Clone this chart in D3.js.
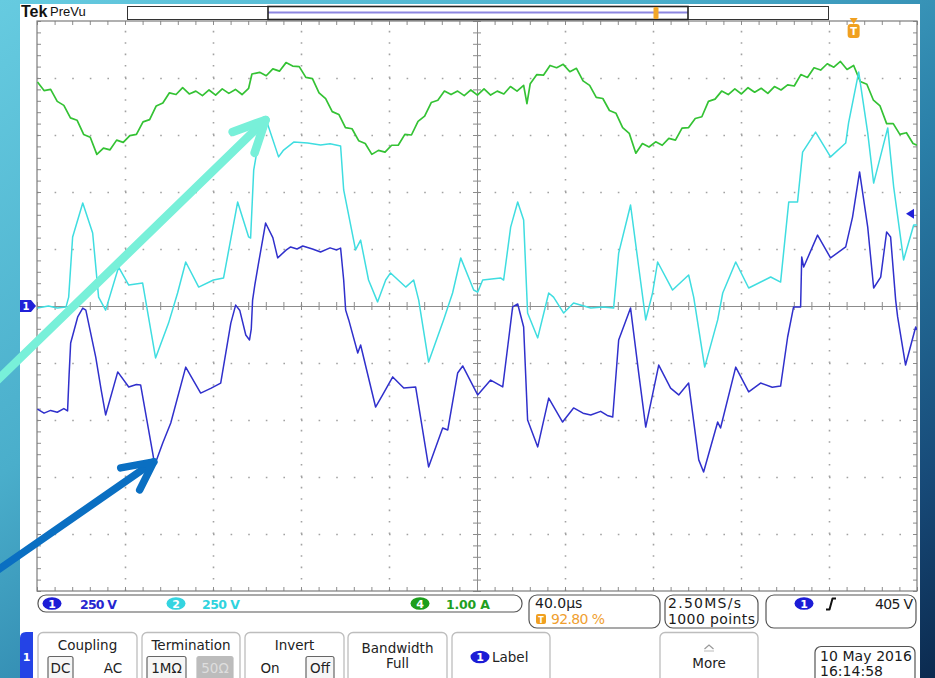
<!DOCTYPE html>
<html>
<head>
<meta charset="utf-8">
<script src="https://cdn.jsdelivr.net/npm/d3@7"></script>
<style>
  html, body { margin: 0; padding: 0; background: #0b2a4f; }
  svg { display: block; }
  text { font-family: "DejaVu Sans", "Noto Sans", sans-serif; }
</style>
</head>
<body>
<svg id="scope" width="935" height="678"></svg>
<script>
// ---- acquisition settings ----
const timePerDiv = 40;          // µs / div
const triggerPosition = 0.928;  // fraction of record before trigger
const ch1VoltsPerDiv = 250;
const ch2VoltsPerDiv = 250;
const ch4AmpsPerDiv = 1.0;
const triggerLevel = 405;       // V on ch1

// ---- channel 1 (V) : [time µs, volts] ----
const ch1Trace = [
  [-371.0,-452],[-368,-470],[-365,-458],[-362,-466],[-359,-450],[-357.3,-460],[-356.6,-300],
  [-355.9,-162],[-352.7,-48],[-350.4,-9],[-349,-18],[-344.5,-224],[-342,-370],[-340,-478],
  [-334.5,-289],[-329.5,-355],[-326,-344],[-324.1,-346],[-318.6,-645],[-317.7,-697],[-314,-600],
  [-310.4,-513],[-303.6,-268],[-296.8,-382],[-292,-360],[-287.7,-338],[-283.1,-75],[-280.9,4],
  [-279,-20],[-276.3,-127],[-274.6,-149],[-273.8,-100],[-273.2,26],[-272.2,92],[-270.4,193],
  [-267.3,364],[-264,300],[-261.8,211],[-258,245],[-255.9,259],[-253,250],[-250.4,263],[-246,250],
  [-242.3,237],[-238,255],[-235,246],[-233.2,254],[-231.8,114],[-230.9,-18],[-229.5,-61],
  [-225.4,-206],[-224.1,-171],[-217.3,-443],[-214.1,-390],[-209.5,-311],[-204.5,-360],
  [-199.1,-355],[-193.2,-706],[-186.8,-535],[-184.5,-544],[-180.0,-294],[-177.7,-263],
  [-170.9,-390],[-165.0,-325],[-159.5,-355],[-155.0,-4],[-152.7,9],[-150.0,-92],[-148.2,-500],
  [-143.6,-618],[-138.6,-404],[-132.3,-509],[-127.3,-447],[-123,-470],[-119.5,-478],[-115,-462],
  [-112,-480],[-109.5,-487],[-106.8,-149],[-101.4,-9],[-97.7,-294],[-94.5,-531],[-88.6,-259],
  [-83.2,-360],[-79.5,-390],[-75.0,-338],[-70.4,-675],[-68.2,-728],[-61.8,-509],[-60.5,-535],
  [-53.6,-268],[-47.7,-377],[-42.3,-338],[-37,-356],[-33.2,-351],[-30.0,-136],[-27.3,-4],
  [-24.1,-4],[-23.6,215],[-22.7,171],[-16.4,311],[-10.5,211],[-3.6,259],[-0.5,390],[2.7,588],
  [6.4,346],[9.1,79],[12.3,127],[15.0,325],[16.8,303],[19.1,26],[20.0,-48],[23.6,-259],
  [28.2,-92],[28.8,-105]
];

// ---- channel 2 (V) : [time µs, volts] ----
const ch2Trace = [
  [-371,-9],[-366,0],[-362,-9],[-358,-4],[-356.8,39],[-355.0,303],[-350.4,452],[-345.9,320],
  [-343.2,39],[-340.0,-18],[-334.1,171],[-329.5,92],[-323.2,101],[-317.3,-228],[-311.4,-75],
  [-307.3,57],[-303.6,193],[-297.7,83],[-291.0,114],[-286.4,123],[-280.0,456],[-275.0,303],
  [-274.1,298],[-272.7,596],[-270.9,697],[-267.3,825],[-261.4,654],[-259.1,684],[-254.5,719],
  [-248.2,715],[-242.3,706],[-238,712],[-233.2,702],[-231.8,509],[-226.4,246],[-224.1,289],
  [-220.5,114],[-216.4,18],[-212.7,114],[-210.5,145],[-203.6,83],[-200.0,114],[-197.7,26],
  [-193.2,-246],[-186.4,-61],[-182.3,57],[-178.6,211],[-172.7,70],[-170.9,61],[-168.6,114],
  [-160.5,123],[-159.1,114],[-155.9,346],[-152.7,456],[-150.0,377],[-148.2,-31],[-143.6,-140],
  [-138.6,57],[-136.4,39],[-131.8,-31],[-127.3,13],[-119.5,-9],[-114,-4],[-109.1,-9],
  [-106.8,232],[-101.4,443],[-97.7,171],[-94.5,-61],[-91.4,57],[-89.1,193],[-82.3,70],
  [-75.0,136],[-72.7,39],[-67.7,-268],[-61.8,-61],[-59.5,57],[-53.6,193],[-47.7,79],
  [-37.7,127],[-33.2,105],[-29.5,456],[-25.5,456],[-23.2,675],[-17.3,763],[-10.5,654],
  [-3.6,715],[-2.3,803],[2.3,1026],[6.4,759],[9.1,539],[15.5,781],[18.2,522],[22.7,202],
  [27.3,355],[28.8,355]
];

// ---- channel 4 (A) : [time µs, amps] ----
const ch4Trace = [
  [-371,3.93],[-368,3.78],[-365,3.80],[-362,3.59],[-359,3.52],[-356,3.30],[-353,3.26],[-350,3.01],
  [-347,2.96],[-344,2.66],[-341,2.77],[-338,2.74],[-335,2.91],[-332,2.87],[-329,2.99],[-326,3.01],
  [-323,3.23],[-320,3.27],[-317,3.51],[-314,3.56],[-311,3.74],[-308,3.71],[-305,3.83],[-302,3.72],
  [-299,3.77],[-296,3.69],[-293,3.79],[-290,3.70],[-287,3.81],[-284,3.73],[-281,3.80],[-278,3.71],
  [-275,3.82],[-273.5,4.07],[-270,4.10],[-267,4.04],[-264,4.16],[-261,4.12],[-258,4.27],[-255,4.21],
  [-252,4.20],[-249,4.01],[-246,3.99],[-243,3.74],[-240,3.64],[-237,3.41],[-234,3.36],[-231,3.13],
  [-228,3.11],[-225,2.90],[-222,2.85],[-219,2.66],[-216,2.73],[-213,2.70],[-210,2.82],[-207,2.82],
  [-204,3.01],[-201,3.00],[-198,3.24],[-195,3.33],[-192,3.57],[-189,3.61],[-186,3.77],[-183,3.71],
  [-180,3.77],[-177,3.69],[-174,3.79],[-171,3.70],[-168,3.81],[-165,3.70],[-162,3.77],[-159,3.72],
  [-156,3.85],[-153,3.77],[-150,3.87],[-148.5,3.55],[-147,3.90],[-144,4.06],[-141,4.05],[-138,4.22],
  [-135,4.18],[-132,4.24],[-129,4.11],[-126,4.17],[-123,3.95],[-120,3.87],[-117,3.66],[-114,3.64],
  [-111,3.43],[-108,3.38],[-105,3.13],[-102,3.03],[-99,2.68],[-96,2.85],[-93,2.79],[-90,2.88],
  [-87,2.82],[-84,2.94],[-81,2.91],[-78,3.12],[-75,3.13],[-72,3.29],[-69,3.32],[-66,3.59],
  [-63,3.63],[-60,3.77],[-57,3.71],[-54,3.81],[-51,3.72],[-48,3.83],[-45,3.75],[-42,3.82],
  [-39,3.73],[-36,3.85],[-33,3.79],[-30,3.88],[-27,3.86],[-24,4.06],[-21,4.01],[-18,4.18],
  [-15,4.14],[-12,4.25],[-9,4.19],[-6,4.29],[-3,4.15],[0,4.22],[3,3.94],[6,3.89],[9,3.61],
  [12,3.51],[15,3.20],[18,3.20],[21,3.01],[24,3.04],[27,2.85],[28.8,2.82]
];

// ---- readout texts ----
const channelReadouts = [
  { ch: "1", text: "250 V",  color: "#2626cf", badge: "#1c1cd6" },
  { ch: "2", text: "250 V",  color: "#2fd3de", badge: "#34d4e0" },
  { ch: "4", text: "1.00 A", color: "#1f9f1f", badge: "#1c9e1c" }
];
const horizontalReadout = ["40.0µs", "92.80 %"];
const acquisitionReadout = ["2.50MS/s", "1000 points"];
const dateReadout = ["10 May 2016", "16:14:58"];

// ---------------------------------------------------------------
const W = 935, H = 678;
const P = { left: 37, top: 21, width: 880, height: 570 };
const tMin = -timePerDiv * 10 * triggerPosition;
const tMax = tMin + timePerDiv * 10;

const svg = d3.select("#scope");
const defs = svg.append("defs");

// background
const bg = defs.append("linearGradient").attr("id", "bg")
  .attr("x1", 0).attr("y1", 0).attr("x2", 1).attr("y2", 1);
[[0, "#66cbe0"], [0.35, "#4aaecb"], [0.6, "#2a7fa8"], [0.85, "#174a78"], [1, "#0b2a4f"]]
  .forEach(([o, c]) => bg.append("stop").attr("offset", o).attr("stop-color", c));
svg.append("rect").attr("width", W).attr("height", H).attr("fill", "url(#bg)");

// instrument screen
svg.append("rect").attr("x", 20).attr("y", 4).attr("width", 900).attr("height", 674).attr("fill", "#ffffff");

defs.append("clipPath").attr("id", "plotClip").append("rect")
  .attr("x", P.left).attr("y", P.top).attr("width", P.width).attr("height", P.height);

// scales
const x = d3.scaleLinear().domain([tMin, tMax]).range([P.left, P.left + P.width]);
const yDiv = d3.scaleLinear().domain([-5, 5]).range([P.top + P.height, P.top]);
const y1 = d3.scaleLinear().domain([-5 * ch1VoltsPerDiv, 5 * ch1VoltsPerDiv]).range(yDiv.range());
const y2 = d3.scaleLinear().domain([-5 * ch2VoltsPerDiv, 5 * ch2VoltsPerDiv]).range(yDiv.range());
const y4 = d3.scaleLinear().domain([-5 * ch4AmpsPerDiv, 5 * ch4AmpsPerDiv]).range(yDiv.range());

const majorTimes = d3.range(1, 10).filter(i => i !== 5).map(i => tMin + i * timePerDiv);
const minorTimes = d3.range(0, 51).map(i => tMin + i * timePerDiv / 5);
const majorDivs = [-4, -3, -2, -1, 1, 2, 3, 4];
const minorDivs = d3.range(0, 51).map(i => -5 + i * 0.2);

const grat = svg.append("g").attr("class", "graticule");
const gridColor = "#a2a2a2";

// dotted division lines
grat.append("g").attr("transform", `translate(0,${P.top + P.height})`)
  .call(d3.axisBottom(x).tickValues(majorTimes).tickSize(-P.height).tickFormat(""))
  .call(g => g.select(".domain").remove())
  .call(g => g.selectAll("line").attr("stroke", gridColor).attr("stroke-width", 1.6)
    .attr("stroke-dasharray", "1.6 9.8"));
grat.append("g").attr("transform", `translate(${P.left},0)`)
  .call(d3.axisLeft(yDiv).tickValues(majorDivs).tickSize(-P.width).tickFormat(""))
  .call(g => g.select(".domain").remove())
  .call(g => g.selectAll("line").attr("stroke", gridColor).attr("stroke-width", 1.6)
    .attr("stroke-dasharray", "1.6 16"));

// center crosshair with minor ticks
const styleAxis = g => {
  g.selectAll("text").remove();
  g.select(".domain").attr("stroke", "#8c8c8c").attr("stroke-width", 1);
  g.selectAll("line").attr("stroke", "#8c8c8c").attr("stroke-width", 1);
};
const cy = yDiv(0), cx = x(tMin + 5 * timePerDiv);
grat.append("g").attr("transform", `translate(0,${cy})`)
  .call(d3.axisBottom(x).tickValues(minorTimes).tickSize(4).tickSizeOuter(0)).call(styleAxis);
grat.append("g").attr("transform", `translate(0,${cy})`)
  .call(d3.axisTop(x).tickValues(minorTimes).tickSize(4).tickSizeOuter(0)).call(styleAxis);
grat.append("g").attr("transform", `translate(${cx},0)`)
  .call(d3.axisLeft(yDiv).tickValues(minorDivs).tickSize(4).tickSizeOuter(0)).call(styleAxis);
grat.append("g").attr("transform", `translate(${cx},0)`)
  .call(d3.axisRight(yDiv).tickValues(minorDivs).tickSize(4).tickSizeOuter(0)).call(styleAxis);

// frame with inward ticks
const frameAxis = g => { g.select(".domain").remove(); g.selectAll("text").remove();
  g.selectAll("line").attr("stroke", "#8c8c8c"); };
grat.append("g").attr("transform", `translate(0,${P.top})`)
  .call(d3.axisBottom(x).tickValues(minorTimes).tickSize(4)).call(frameAxis);
grat.append("g").attr("transform", `translate(0,${P.top + P.height})`)
  .call(d3.axisTop(x).tickValues(minorTimes).tickSize(4)).call(frameAxis);
grat.append("g").attr("transform", `translate(${P.left},0)`)
  .call(d3.axisRight(yDiv).tickValues(minorDivs).tickSize(4)).call(frameAxis);
grat.append("g").attr("transform", `translate(${P.left + P.width},0)`)
  .call(d3.axisLeft(yDiv).tickValues(minorDivs).tickSize(4)).call(frameAxis);
grat.append("rect").attr("x", P.left).attr("y", P.top).attr("width", P.width).attr("height", P.height)
  .attr("fill", "none").attr("stroke", "#7c7c7c").attr("stroke-width", 1.2);

// waveforms
const traces = svg.append("g").attr("clip-path", "url(#plotClip)");
const drawTrace = (data, yScale, color, w) => traces.append("path")
  .datum(data)
  .attr("d", d3.line().x(d => x(d[0])).y(d => yScale(d[1])))
  .attr("fill", "none").attr("stroke", color).attr("stroke-width", w)
  .attr("stroke-linejoin", "round");
drawTrace(ch4Trace, y4, "#34c234", 1.7);
drawTrace(ch2Trace, y2, "#3fdde0", 1.5);
drawTrace(ch1Trace, y1, "#3030cc", 1.5);

// ch1 ground marker
const g1 = svg.append("g").attr("transform", `translate(20,${y1(0)})`);
g1.append("path").attr("d", "M0,-6 H11 L16,0 L11,6 H0 Z").attr("fill", "#2121d8");
g1.append("text").attr("x", 6).attr("y", 4).attr("text-anchor", "middle")
  .attr("font-size", 10).attr("font-weight", "bold").attr("fill", "#fff").text("1");

// trigger level marker
svg.append("path")
  .attr("transform", `translate(${P.left + P.width - 3},${y1(triggerLevel)})`)
  .attr("d", "M-8,0 L0,-5 L0,5 Z").attr("fill", "#2121d8");

// trigger position marker
const tx = x(0);
const tm = svg.append("g").attr("transform", `translate(${tx},0)`);
tm.append("path").attr("d", "M-4,18 L4,18 L0,24 Z").attr("fill", "#f0a020");
tm.append("rect").attr("x", -6).attr("y", 24).attr("width", 12).attr("height", 14).attr("rx", 3)
  .attr("fill", "#f0a020");
tm.append("text").attr("x", 0).attr("y", 35).attr("text-anchor", "middle").attr("font-size", 10)
  .attr("font-weight", "bold").attr("fill", "#fff").text("T");

// ---- header ----
svg.append("text").attr("x", 21).attr("y", 17)
  .style("font-family", "'Liberation Sans Narrow','Liberation Sans',sans-serif")
  .attr("font-size", 16).attr("font-weight", "bold").attr("fill", "#111").text("Tek");
svg.append("text").attr("x", 50).attr("y", 16)
  .style("font-family", "'Liberation Sans',sans-serif")
  .attr("font-size", 13).attr("fill", "#111").text("PreVu");
svg.append("rect").attr("x", 127.5).attr("y", 6.5).attr("width", 701).attr("height", 13)
  .attr("fill", "#fff").attr("stroke", "#333");
svg.append("line").attr("x1", 268).attr("x2", 688).attr("y1", 12.5).attr("y2", 12.5)
  .attr("stroke", "#8c86e0").attr("stroke-width", 2);
svg.append("rect").attr("x", 268).attr("y", 6.5).attr("width", 420).attr("height", 13)
  .attr("fill", "none").attr("stroke", "#222").attr("stroke-width", 1.6);
svg.append("rect").attr("x", 653.5).attr("y", 7).attr("width", 5).attr("height", 12).attr("rx", 1.5)
  .attr("fill", "#f2a628");

// ---- readout row ----
const rbox = (x0, y0, w, h) => svg.append("rect").attr("x", x0).attr("y", y0).attr("width", w)
  .attr("height", h).attr("rx", 8).attr("fill", "#fff").attr("stroke", "#555").attr("stroke-width", 1.2);
const badge = (cx0, cy0, label, fill) => {
  svg.append("ellipse").attr("cx", cx0).attr("cy", cy0).attr("rx", 9.5).attr("ry", 6.3).attr("fill", fill);
  svg.append("text").attr("x", cx0).attr("y", cy0 + 4).attr("text-anchor", "middle")
    .attr("font-size", 11).attr("font-weight", "bold").attr("fill", "#fff").text(label);
};
rbox(38, 595, 484, 17);
const readoutPos = [{ b: 52, t: 80, w: 37 }, { b: 176, t: 202, w: 38 }, { b: 420, t: 446, w: 44 }];
channelReadouts.forEach((r, i) => {
  badge(readoutPos[i].b, 603.5, r.ch, r.badge);
  svg.append("text").attr("x", readoutPos[i].t).attr("y", 608.5).attr("font-size", 12.5)
    .attr("font-weight", "bold").attr("fill", r.color)
    .attr("textLength", readoutPos[i].w).text(r.text);
});

rbox(529, 595, 131, 33);
svg.append("text").attr("x", 535).attr("y", 608).attr("font-size", 14).attr("fill", "#1a1a1a")
  .text(horizontalReadout[0]);
svg.append("rect").attr("x", 536).attr("y", 614).attr("width", 10).attr("height", 10).attr("rx", 2)
  .attr("fill", "#f0a020");
svg.append("text").attr("x", 541).attr("y", 622.5).attr("text-anchor", "middle").attr("font-size", 8)
  .attr("font-weight", "bold").attr("fill", "#fff").text("T");
svg.append("text").attr("x", 551).attr("y", 623.5).attr("font-size", 14).attr("fill", "#f0a030")
  .attr("textLength", 54).text(horizontalReadout[1]);

rbox(665, 595, 93, 33);
svg.append("text").attr("x", 668).attr("y", 608).attr("font-size", 14).attr("fill", "#1a1a1a")
  .attr("textLength", 73).text(acquisitionReadout[0]);
svg.append("text").attr("x", 668).attr("y", 623.5).attr("font-size", 14).attr("fill", "#1a1a1a")
  .attr("textLength", 87).text(acquisitionReadout[1]);

rbox(766, 595, 150, 33);
badge(804, 603.5, "1", "#1c1cd6");
svg.append("path").attr("d", "M826,609.5 H829.5 L832.5,598.5 H836").attr("fill", "none")
  .attr("stroke", "#111").attr("stroke-width", 2).attr("stroke-linejoin", "round");
svg.append("text").attr("x", 913).attr("y", 608.5).attr("text-anchor", "end").attr("font-size", 14)
  .attr("fill", "#1a1a1a").attr("textLength", 38).text(`${triggerLevel} V`);

// ---- soft-key menu ----
svg.append("path").attr("d", "M20,678 V638 Q20,632 26,632 H33 V678 Z").attr("fill", "#2443e6");
svg.append("text").attr("x", 26.5).attr("y", 661).attr("text-anchor", "middle").attr("font-size", 11)
  .attr("font-weight", "bold").attr("fill", "#fff").text("1");

const key = (x0, w) => svg.append("rect").attr("x", x0).attr("y", 632.5).attr("width", w).attr("height", 55)
  .attr("rx", 5).attr("fill", "#fff").attr("stroke", "#bdbdbd").attr("stroke-width", 1.3);
const label = (xc, yb, s, opts = {}) => svg.append("text").attr("x", xc).attr("y", yb)
  .attr("text-anchor", opts.anchor || "middle").attr("font-size", opts.size || 13.5)
  .attr("fill", opts.fill || "#222").text(s);
const choice = (x0, w, s, fill, stroke, textFill) => {
  svg.append("rect").attr("x", x0).attr("y", 656.5).attr("width", w).attr("height", 24).attr("rx", 2)
    .attr("fill", fill).attr("stroke", stroke).attr("stroke-width", 1.2);
  label(x0 + w / 2, 673, s, { fill: textFill });
};

key(38, 99);  label(87.5, 650, "Coupling");
choice(48, 25, "DC", "#f6f6f6", "#666", "#222");  label(113, 673, "AC");
key(142, 98); label(191, 650, "Termination");
choice(147, 39, "1MΩ", "#f6f6f6", "#666", "#222");
choice(197, 36, "50Ω", "#bcbcbc", "#bcbcbc", "#dedede");
key(245, 99); label(294.5, 650, "Invert");
label(270, 673, "On");  choice(306, 28, "Off", "#f6f6f6", "#666", "#222");
key(348, 99); label(397.5, 653, "Bandwidth"); label(397.5, 668, "Full");
key(452, 98); badge(480, 657, "1", "#1c1cd6"); label(492, 662, "Label", { anchor: "start" });
key(660, 98);
svg.append("path").attr("d", "M704.5,649 L709,645 L713.5,649").attr("fill", "none")
  .attr("stroke", "#999").attr("stroke-width", 1.2);
svg.append("line").attr("x1", 704).attr("x2", 714).attr("y1", 651).attr("y2", 651).attr("stroke", "#bbb");
label(709, 668, "More");
svg.append("rect").attr("x", 815).attr("y", 646.5).attr("width", 100).attr("height", 40).attr("rx", 6)
  .attr("fill", "#fff").attr("stroke", "#555").attr("stroke-width", 1.2);
svg.append("text").attr("x", 820).attr("y", 661).attr("font-size", 14).attr("fill", "#1a1a1a")
  .attr("textLength", 92).text(dateReadout[0]);
svg.append("text").attr("x", 820).attr("y", 675.5).attr("font-size", 14).attr("fill", "#1a1a1a")
  .attr("textLength", 63).text(dateReadout[1]);

// ---- callout arrows pointing at the ch2 peak and the ch1 trough ----
const callout = (tip, tail, armA, armB, color, width) => {
  const g = svg.append("g").attr("fill", "none").attr("stroke", color).attr("stroke-width", width)
    .attr("stroke-linecap", "round").attr("stroke-linejoin", "round");
  g.append("line").attr("x1", tip[0] + tail[0]).attr("y1", tip[1] + tail[1])
    .attr("x2", tip[0]).attr("y2", tip[1]);
  g.append("path").attr("d",
    `M${tip[0] + armA[0]},${tip[1] + armA[1]} L${tip[0]},${tip[1]} L${tip[0] + armB[0]},${tip[1] + armB[1]}`);
};
const ch2Peak = ch2Trace.reduce((a, b) => (b[0] < -250 && b[1] > a[1] ? b : a));
const ch1Trough = ch1Trace.reduce((a, b) => (b[0] < -300 && b[1] < a[1] ? b : a));
callout([x(ch2Peak[0]), y2(ch2Peak[1]) + 2], [-270, 262], [-33, 12], [-11, 33], "#78f0d9", 8.5);
callout([x(ch1Trough[0]) - 1, y1(ch1Trough[1]) - 3], [-160, 111], [-33, 6], [-14, 28], "#0a6fc2", 7.5);
</script>
</body>
</html>
